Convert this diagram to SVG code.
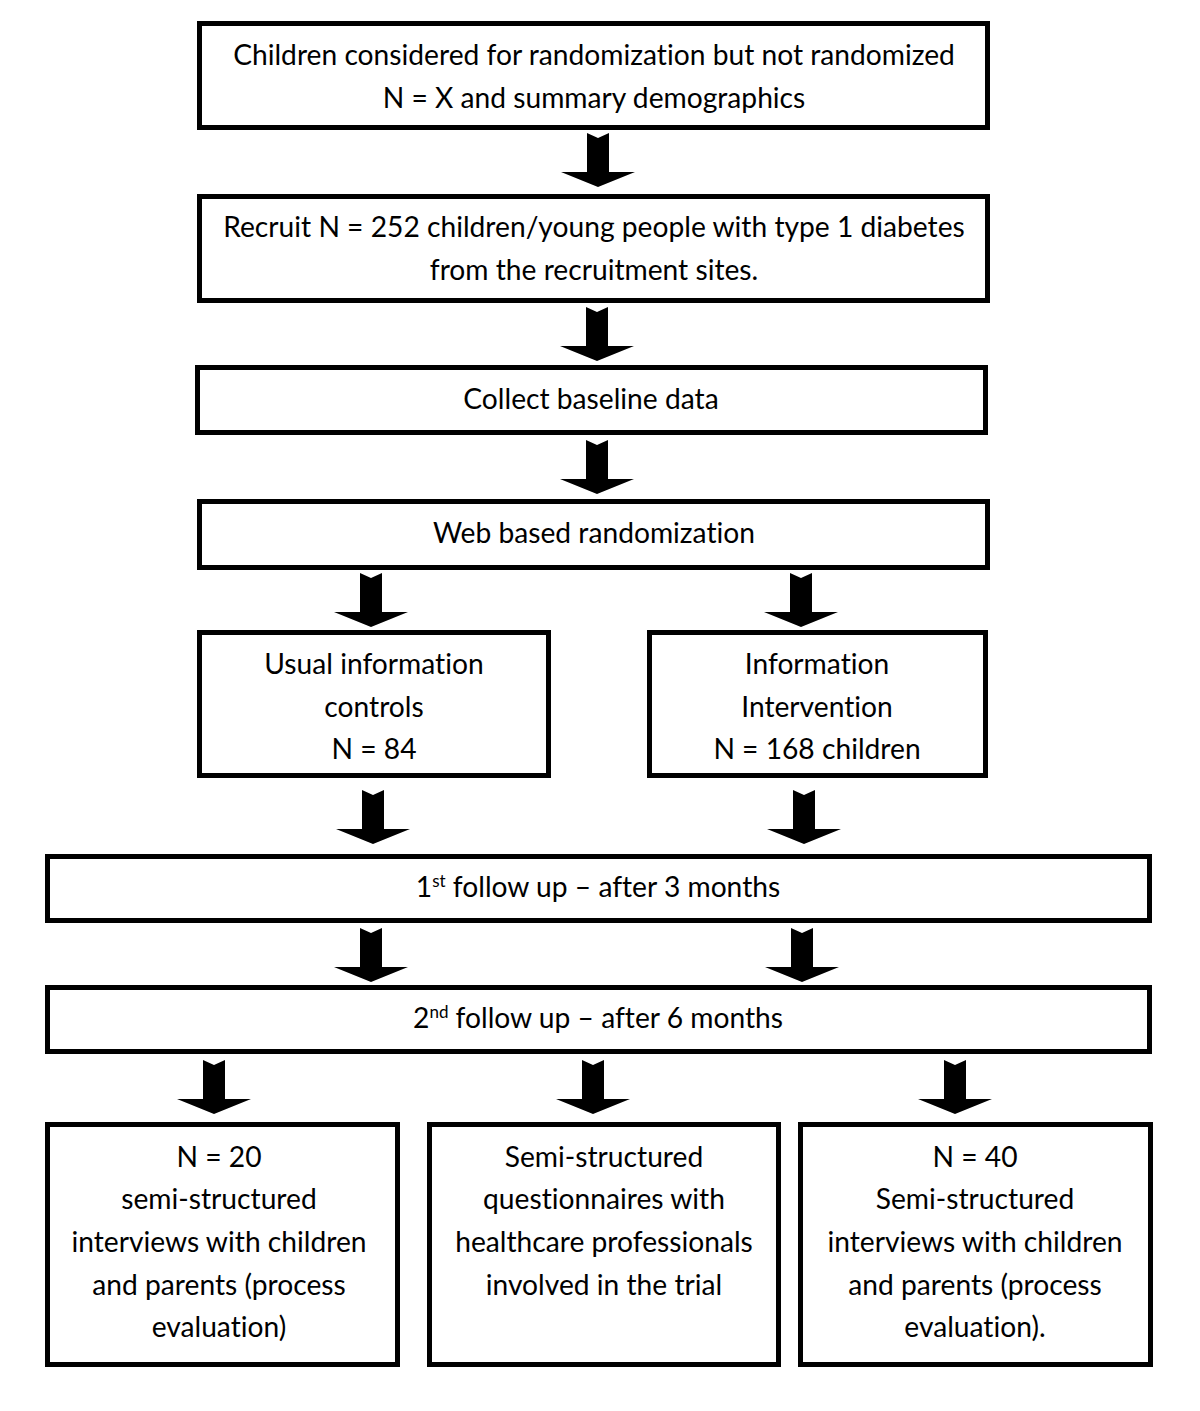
<svg xmlns="http://www.w3.org/2000/svg" xmlns:xlink="http://www.w3.org/1999/xlink" width="1200" height="1411" viewBox="0 0 1200 1411">
<style>
.box{fill:#fff;stroke:#000;stroke-width:5}
.t{font-family:Lato,"Open Sans","Liberation Sans",sans-serif;font-size:28.2px;fill:#000;text-anchor:middle;font-variant-ligatures:none;font-feature-settings:"liga" 0}
.sup{font-size:17px}
.arr{fill:#000}
</style>
<defs>
<path id="arrow" d="M-11,0 L0,5 L11,0 L11,39 L37,39 L0,54 L-37,39 L-11,39 Z"/>
</defs>
<rect width="1200" height="1411" fill="#fff"/>
<g id="connectors" class="arr">
<use xlink:href="#arrow" transform="translate(598,133)"/>
<use xlink:href="#arrow" transform="translate(597,307)"/>
<use xlink:href="#arrow" transform="translate(597,440)"/>
<use xlink:href="#arrow" transform="translate(371,573)"/>
<use xlink:href="#arrow" transform="translate(801,573)"/>
<use xlink:href="#arrow" transform="translate(373,790)"/>
<use xlink:href="#arrow" transform="translate(804,790)"/>
<use xlink:href="#arrow" transform="translate(371,928)"/>
<use xlink:href="#arrow" transform="translate(802,928)"/>
<use xlink:href="#arrow" transform="translate(214,1060)"/>
<use xlink:href="#arrow" transform="translate(593,1060)"/>
<use xlink:href="#arrow" transform="translate(955,1060)"/>
</g>
<g id="n1"><rect class="box" x="199.5" y="23.5" width="788" height="104"/>
<text class="t" x="594" y="65">Children considered for randomization but not randomized</text>
<text class="t" x="594" y="108">N = X and summary demographics</text></g>
<g id="n2"><rect class="box" x="199.5" y="196.5" width="788" height="104"/>
<text class="t" x="594" y="237">Recruit N = 252 children/young people with type 1 diabetes</text>
<text class="t" x="594" y="280">from the recruitment sites.</text></g>
<g id="n3"><rect class="box" x="197.5" y="367.5" width="788" height="65"/>
<text class="t" x="591" y="409">Collect baseline data</text></g>
<g id="n4"><rect class="box" x="199.5" y="501.5" width="788" height="66"/>
<text class="t" x="594" y="543">Web based randomization</text></g>
<g id="n5"><rect class="box" x="199.5" y="632.5" width="349" height="143"/>
<text class="t" x="374" y="674">Usual information</text>
<text class="t" x="374" y="717">controls</text>
<text class="t" x="374" y="759">N = 84</text></g>
<g id="n6"><rect class="box" x="649.5" y="632.5" width="336" height="143"/>
<text class="t" x="817" y="674">Information</text>
<text class="t" x="817" y="717">Intervention</text>
<text class="t" x="817" y="759">N = 168 children</text></g>
<g id="n7"><rect class="box" x="47.5" y="856.5" width="1102" height="64"/>
<text class="t" x="598" y="897">1<tspan class="sup" dy="-10">st</tspan><tspan dy="10"> follow up – after 3 months</tspan></text></g>
<g id="n8"><rect class="box" x="47.5" y="987.5" width="1102" height="64"/>
<text class="t" x="598" y="1028">2<tspan class="sup" dy="-10">nd</tspan><tspan dy="10"> follow up – after 6 months</tspan></text></g>
<g id="n9"><rect class="box" x="47.5" y="1124.5" width="350" height="240"/>
<text class="t" x="219" y="1167">N = 20</text>
<text class="t" x="219" y="1209">semi-structured</text>
<text class="t" x="219" y="1252">interviews with children</text>
<text class="t" x="219" y="1295">and parents (process</text>
<text class="t" x="219" y="1337">evaluation)</text></g>
<g id="n10"><rect class="box" x="429.5" y="1124.5" width="349" height="240"/>
<text class="t" x="604" y="1167">Semi-structured</text>
<text class="t" x="604" y="1209">questionnaires with</text>
<text class="t" x="604" y="1252">healthcare professionals</text>
<text class="t" x="604" y="1295">involved in the trial</text></g>
<g id="n11"><rect class="box" x="800.5" y="1124.5" width="350" height="240"/>
<text class="t" x="975" y="1167">N = 40</text>
<text class="t" x="975" y="1209">Semi-structured</text>
<text class="t" x="975" y="1252">interviews with children</text>
<text class="t" x="975" y="1295">and parents (process</text>
<text class="t" x="975" y="1337">evaluation).</text></g>
</svg>
